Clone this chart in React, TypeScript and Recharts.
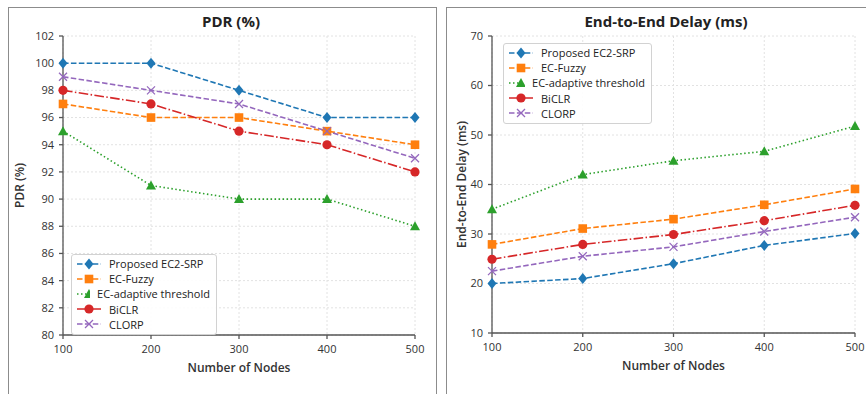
import { LineChart, Line, XAxis, YAxis, CartesianGrid, Legend, Label } from "recharts";

const nodes = [100, 200, 300, 400, 500];
const pdrTicks = [80, 82, 84, 86, 88, 90, 92, 94, 96, 98, 100, 102];
const delayTicks = [10, 20, 30, 40, 50, 60, 70];

const pdrProposed = [100, 100, 98, 96, 96];
const pdrFuzzy = [97, 96, 96, 95, 94];
const pdrAdaptive = [95, 91, 90, 90, 88];
const pdrBiclr = [98, 97, 95, 94, 92];
const pdrClorp = [99, 98, 97, 95, 93];

const delayProposed = [20, 21, 24, 27.7, 30.1];
const delayFuzzy = [27.9, 31.1, 33, 35.9, 39.1];
const delayAdaptive = [35, 42, 44.8, 46.7, 51.8];
const delayBiclr = [24.9, 27.9, 29.9, 32.7, 35.8];
const delayClorp = [22.5, 25.5, 27.4, 30.5, 33.4];

const FONT = "'Open Sans', 'DejaVu Sans', sans-serif";

type Shape = "diamond" | "square" | "triangle" | "circle" | "x";

const series: { key: string; name: string; color: string; dash: string; shape: Shape }[] = [
  { key: "proposed", name: "Proposed EC2-SRP", color: "#1f77b4", dash: "5.5 2.4", shape: "diamond" },
  { key: "fuzzy", name: "EC-Fuzzy", color: "#ff7f0e", dash: "5.5 2.4", shape: "square" },
  { key: "adaptive", name: "EC-adaptive threshold", color: "#2ca02c", dash: "1.5 2.5", shape: "triangle" },
  { key: "biclr", name: "BiCLR", color: "#d62728", dash: "9.6 2.4 1.5 2.4", shape: "circle" },
  { key: "clorp", name: "CLORP", color: "#9467bd", dash: "5.5 2.4", shape: "x" },
];

const pdrData = nodes.map((n, i) => ({
  nodes: n,
  proposed: pdrProposed[i],
  fuzzy: pdrFuzzy[i],
  adaptive: pdrAdaptive[i],
  biclr: pdrBiclr[i],
  clorp: pdrClorp[i],
}));

const delayData = nodes.map((n, i) => ({
  nodes: n,
  proposed: delayProposed[i],
  fuzzy: delayFuzzy[i],
  adaptive: delayAdaptive[i],
  biclr: delayBiclr[i],
  clorp: delayClorp[i],
}));

const drawMarker = (shape: Shape, color: string, cx: number, cy: number, key?: string) => {
  if (shape === "diamond")
    return <polygon key={key} points={`${cx},${cy - 5.5} ${cx + 4.5},${cy} ${cx},${cy + 5.5} ${cx - 4.5},${cy}`} fill={color} />;
  if (shape === "square")
    return <rect key={key} x={cx - 4.3} y={cy - 4.3} width={8.6} height={8.6} fill={color} />;
  if (shape === "triangle")
    return <polygon key={key} points={`${cx},${cy - 5} ${cx + 5},${cy + 4} ${cx - 5},${cy + 4}`} fill={color} />;
  if (shape === "circle") return <circle key={key} cx={cx} cy={cy} r={4.6} fill={color} />;
  return (
    <g key={key} stroke={color} strokeWidth={1.3}>
      <line x1={cx - 4} y1={cy - 4} x2={cx + 4} y2={cy + 4} />
      <line x1={cx - 4} y1={cy + 4} x2={cx + 4} y2={cy - 4} />
    </g>
  );
};

const makeDot = (shape: Shape, color: string) => (props: any) =>
  drawMarker(shape, color, props.cx, props.cy, `${shape}-${props.index}`);

const LegendBox = () => (
  <div
    style={{
      border: "1px solid #d2d2d2",
      borderRadius: 3,
      background: "rgba(255,255,255,0.9)",
      padding: "1px 6px 2px 4px",
      fontFamily: FONT,
      fontSize: 11,
      color: "#222",
    }}
  >
    {series.map((s) => (
      <div key={s.key} style={{ display: "flex", alignItems: "center", height: 15.2 }}>
        <svg width={26} height={12} style={{ marginRight: 7 }}>
          <line x1={1} y1={6} x2={25} y2={6} stroke={s.color} strokeWidth={1.5} strokeDasharray={s.dash} />
          {drawMarker(s.shape, s.color, 13, 6)}
        </svg>
        <span style={{ whiteSpace: "nowrap" }}>{s.name}</span>
      </div>
    ))}
  </div>
);

const tickStyle = { fontSize: 11, fill: "#333", fontFamily: FONT };
const axisStroke = { stroke: "#555", strokeWidth: 1.3 };

type PanelChartProps = {
  data: any[];
  width: number;
  height: number;
  margin: { top: number; right: number; bottom: number; left: number };
  yTicks: number[];
  yDomain: [number, number];
  yLabel: string;
  yLabelOffset: number;
  yAxisWidth: number;
  legendPos: { left: number; top: number; width: number };
};

const PanelChart = ({ data, width, height, margin, yTicks, yDomain, yLabel, yLabelOffset, yAxisWidth, legendPos }: PanelChartProps) => (
  <LineChart width={width} height={height} data={data} margin={margin}>
    <CartesianGrid stroke="#e2e2e2" strokeDasharray="2 2" />
    <XAxis
      dataKey="nodes"
      type="number"
      domain={[100, 500]}
      ticks={nodes}
      tick={tickStyle}
      axisLine={axisStroke}
      tickLine={axisStroke}
      tickSize={4}
      tickMargin={6}
      height={40}
    >
      <Label
        value="Number of Nodes"
        position="insideBottom"
        offset={3}
        style={{ fontSize: 12, fontWeight: 600, fill: "#333", fontFamily: FONT }}
      />
    </XAxis>
    <YAxis
      type="number"
      domain={yDomain}
      ticks={yTicks}
      tick={tickStyle}
      axisLine={axisStroke}
      tickLine={axisStroke}
      tickSize={4}
      tickMargin={5}
      width={yAxisWidth}
      interval={0}
    >
      <Label
        value={yLabel}
        angle={-90}
        position="insideLeft"
        offset={yLabelOffset}
        style={{ textAnchor: "middle", fontSize: 12, fontWeight: 600, fill: "#333", fontFamily: FONT }}
      />
    </YAxis>
    <Legend
      layout="vertical"
      align="center"
      verticalAlign="middle"
      content={() => <LegendBox />}
      wrapperStyle={{ left: legendPos.left, top: legendPos.top, width: legendPos.width, height: "auto" }}
    />
    {series.map((s) => (
      <Line
        key={s.key}
        type="linear"
        dataKey={s.key}
        name={s.name}
        stroke={s.color}
        strokeWidth={1.6}
        strokeDasharray={s.dash}
        dot={makeDot(s.shape, s.color)}
        activeDot={false}
        isAnimationActive={false}
      />
    ))}
  </LineChart>
);

const panelStyle = {
  position: "absolute" as const,
  border: "1.5px solid #8c8c8c",
  background: "#fff",
  boxSizing: "border-box" as const,
};

const titleStyle = {
  position: "absolute" as const,
  top: 11,
  transform: "translateX(-50%)",
  fontFamily: FONT,
  fontSize: 15,
  fontWeight: 700,
  color: "#222",
  whiteSpace: "nowrap" as const,
};

export default function App() {
  return (
    <div style={{ position: "absolute", left: 0, top: 0, width: 866, height: 394, overflow: "hidden", background: "#fff" }}>
      <div style={{ ...panelStyle, left: 8, top: 7, width: 429, height: 388 }} />
      <div style={{ ...panelStyle, left: 446, top: 7, width: 440, height: 388 }} />
      <div style={{ position: "absolute", left: 0, top: 0 }}>
        <PanelChart
          data={pdrData}
          width={436}
          height={394}
          margin={{ top: 36, right: 21, bottom: 19, left: 0 }}
          yTicks={pdrTicks}
          yDomain={[80, 102]}
          yLabel="PDR (%)"
          yLabelOffset={20}
          yAxisWidth={63}
          legendPos={{ left: 71, top: 254, width: 146 }}
        />
      </div>
      <div style={{ position: "absolute", left: 446, top: 0 }}>
        <PanelChart
          data={delayData}
          width={440}
          height={394}
          margin={{ top: 36, right: 31, bottom: 21, left: 0 }}
          yTicks={delayTicks}
          yDomain={[10, 70]}
          yLabel="End-to-End Delay (ms)"
          yLabelOffset={16}
          yAxisWidth={46}
          legendPos={{ left: 57, top: 43, width: 149 }}
        />
      </div>
      <div style={{ ...titleStyle, left: 231 }}>PDR (%)</div>
      <div style={{ ...titleStyle, left: 666 }}>End-to-End Delay (ms)</div>
    </div>
  );
}
